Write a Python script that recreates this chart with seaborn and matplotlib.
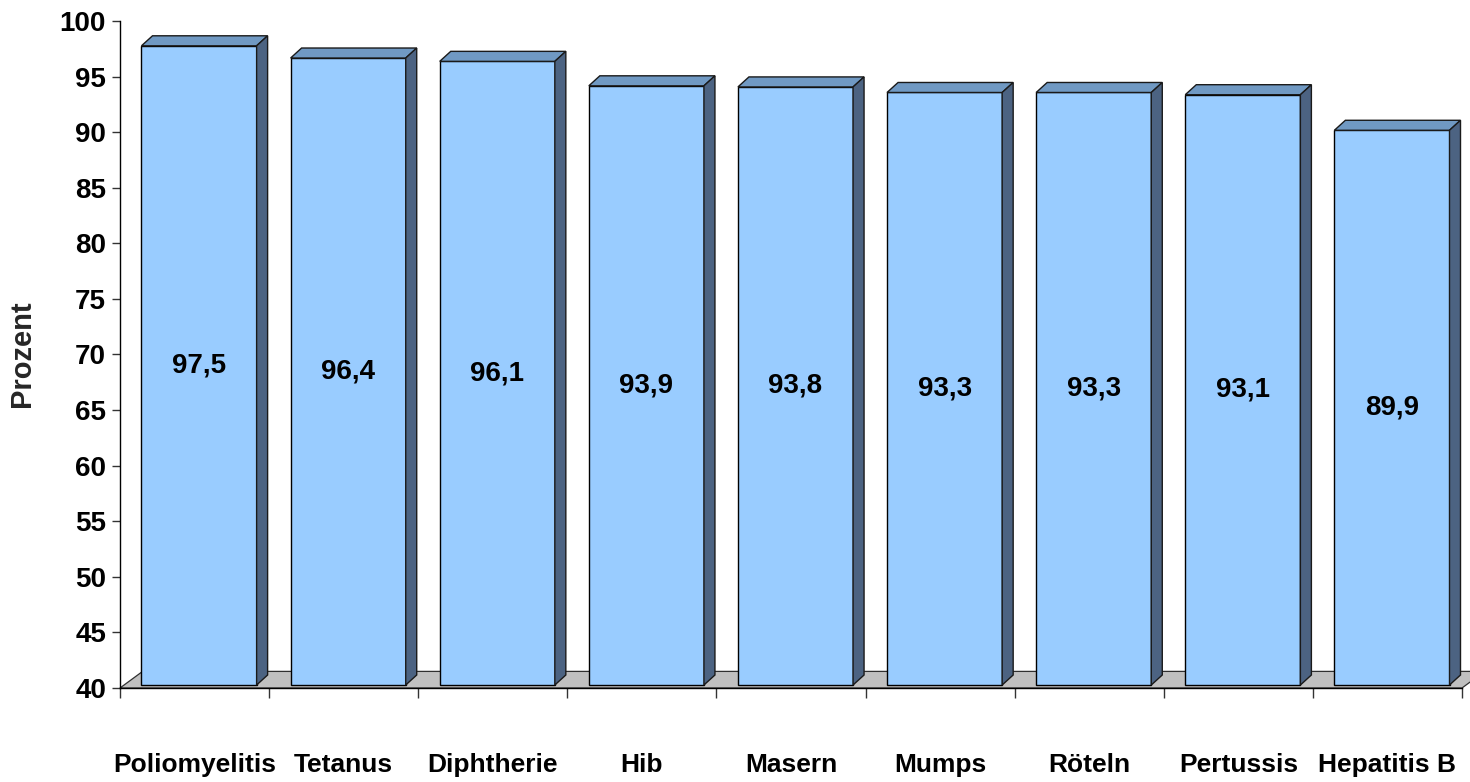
import numpy as np
import pandas as pd
import matplotlib
matplotlib.use("Agg")
import matplotlib.pyplot as plt
from matplotlib.patches import Polygon
from matplotlib.transforms import offset_copy
import seaborn as sns

# ---- data ----
categories = ["Poliomyelitis", "Tetanus", "Diphtherie", "Hib", "Masern",
              "Mumps", "Röteln", "Pertussis", "Hepatitis B"]
values = [97.5, 96.4, 96.1, 93.9, 93.8, 93.3, 93.3, 93.1, 89.9]
value_labels = ["97,5", "96,4", "96,1", "93,9", "93,8", "93,3", "93,3", "93,1", "89,9"]
y_ticks = [40, 45, 50, 55, 60, 65, 70, 75, 80, 85, 90, 95, 100]
y_label = "Prozent"

Y_MIN, Y_MAX = 40, 100

sns.set_style("white")
plt.rcParams["font.family"] = ["Liberation Sans", "DejaVu Sans"]
plt.rcParams["font.weight"] = "bold"

FRONT = "#99CCFF"
TOP = "#7099C3"
SIDE = "#4C6382"
FLOOR = "#C0C0C0"

W, H = 1470, 782
fig = plt.figure(figsize=(W / 100, H / 100), dpi=100)
ax = fig.add_axes([120 / W, (H - 688) / H, 1342 / W, 667 / H])

df = pd.DataFrame({"Impfung": categories, "Prozent": values})
df["Höhe"] = df["Prozent"] - Y_MIN

sns.barplot(data=df, x="Impfung", y="Höhe", bottom=Y_MIN, width=0.772,
            color=FRONT, saturation=1, edgecolor="black", linewidth=1,
            ax=ax, zorder=3)

ax.set_xlim(-0.5, len(categories) - 0.5)
ax.set_ylim(Y_MIN, Y_MAX)

# pixel -> data conversion
p0 = ax.transData.transform((0, Y_MIN))
p1 = ax.transData.transform((1, Y_MIN + 1))
ppx, ppy = p1 - p0

OFF_X, OFF_Y = 4.5, 3.0      # front face offset (px)
DX, DY = 11.0, 10.0          # bar depth (px)
FDX, FDY = 22.6, 16.6        # floor depth (px)

ox, oy = OFF_X / ppx, OFF_Y / ppy
dx, dy = DX / ppx, DY / ppy

# floor
fdx, fdy = FDX / ppx, FDY / ppy
x_lo, x_hi = ax.get_xlim()
floor = Polygon([(x_lo, Y_MIN), (x_hi, Y_MIN), (x_hi + fdx, Y_MIN + fdy),
                 (x_lo + fdx, Y_MIN + fdy)], closed=True, facecolor=FLOOR,
                edgecolor="#303030", linewidth=0.9, zorder=1, clip_on=False)
ax.add_patch(floor)

front_tr = offset_copy(ax.transData, fig=fig, x=OFF_X, y=OFF_Y, units="dots")
bars = list(ax.containers[0])
for patch, lab in zip(bars, value_labels):
    patch.set_transform(front_tr)
    x0, y0 = patch.get_x() + ox, patch.get_y() + oy
    x1, y1 = x0 + patch.get_width(), y0 + patch.get_height()
    top = Polygon([(x0, y1), (x1, y1), (x1 + dx, y1 + dy), (x0 + dx, y1 + dy)],
                  closed=True, facecolor=TOP, edgecolor="#1a1a1a",
                  linewidth=1, zorder=3)
    side = Polygon([(x1, y0), (x1, y1), (x1 + dx, y1 + dy), (x1 + dx, y0 + dy)],
                   closed=True, facecolor=SIDE, edgecolor="#1a1a1a",
                   linewidth=1, zorder=3)
    ax.add_patch(top)
    ax.add_patch(side)
    ax.text((x0 + x1) / 2, (y0 + y1) / 2, lab, ha="center", va="center",
            fontsize=20, fontweight="bold", color="black", zorder=5)

# axes styling
for s in ["top", "right"]:
    ax.spines[s].set_visible(False)
for s in ["left", "bottom"]:
    ax.spines[s].set_color("black")
    ax.spines[s].set_linewidth(1)
    ax.spines[s].set_zorder(4)

ax.set_yticks(y_ticks)
ax.set_yticklabels([str(t) for t in y_ticks])
ax.tick_params(axis="y", left=True, length=6, width=1, color="#333333",
               pad=4, labelsize=20, labelcolor="black", direction="out")

ax.set_xticks(range(len(categories)))
ax.set_xticklabels(categories)
ax.set_xticks(np.arange(len(categories) + 1) - 0.5, minor=True)
ax.tick_params(axis="x", which="major", bottom=False, length=0, pad=47,
               labelsize=19, labelcolor="black")
ax.tick_params(axis="x", which="minor", bottom=True, length=7.2, width=1,
               color="#333333", direction="out")

ax.set_xlabel("")
ax.set_ylabel("")
fig.text(22 / W, 1 - 354 / H, y_label, rotation=90, ha="center", va="center",
         fontsize=21, fontweight="bold")

fig.savefig("out.png", dpi=100, facecolor="white")
